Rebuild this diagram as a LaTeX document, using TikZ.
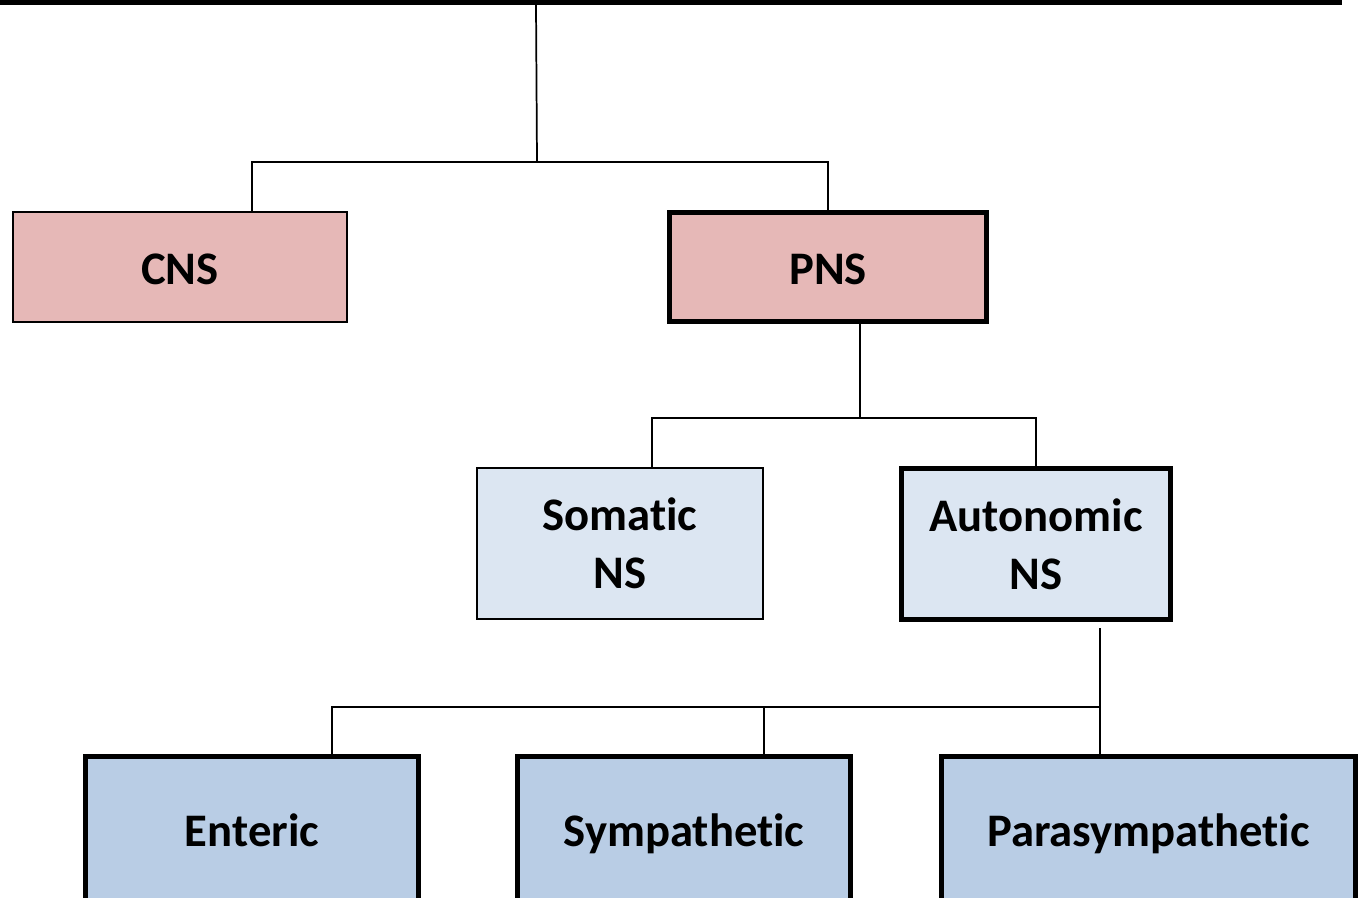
\documentclass[tikz,border=0pt]{standalone}
\usepackage{fontspec}
\setmainfont{Carlito}[Ligatures=NoCommon]
\definecolor{pinkfill}{HTML}{E6B8B7}
\definecolor{palefill}{HTML}{DCE6F2}
\definecolor{bluefill}{HTML}{B9CDE5}
\tikzset{
    box/.style={rectangle, draw=black, line width=1.5pt, inner sep=0pt, align=center,
        font=\bfseries\fontsize{35}{43.5}\selectfont},
    thickbox/.style={box, line width=4pt},
    oneline/.style={text height=27pt, text depth=0pt},
    link/.style={line width=1.3pt}
}

\begin{document}
\begin{tikzpicture}[x=0.75pt,y=-0.75pt]
    \useasboundingbox (0,0) rectangle (1364,898);

    % top bar
    \coordinate (barL) at (0,2.5);
    \coordinate (barR) at (1342,2.5);
    \draw[line width=4.5pt] (barL) -- (barR);

    % CNS and PNS
    \node[box, oneline, fill=pinkfill, minimum width=250.5pt, minimum height=82.5pt] (cns) at (180,267) {CNS};
    \node[thickbox, oneline, fill=pinkfill, minimum width=237.75pt, minimum height=81.75pt] (pns) at (828,267) {PNS};

    % Somatic and Autonomic
    \node[box, fill=palefill, minimum width=214.5pt, minimum height=113.25pt] (somatic) at (620,543.5) {Somatic\\NS};
    \node[thickbox, fill=palefill, minimum width=201.75pt, minimum height=113.25pt] (auto) at (1036,544) {Autonomic\\NS};

    % Enteric, Sympathetic, Parasympathetic
    \node[thickbox, oneline, fill=bluefill, minimum width=249.75pt, minimum height=108pt] (enteric) at (252,828.5) {Enteric};
    \node[thickbox, oneline, fill=bluefill, minimum width=249.75pt, minimum height=108pt] (symp) at (684,828.5) {Sympathetic};
    \node[thickbox, oneline, fill=bluefill, minimum width=310.5pt, minimum height=108pt] (para) at (1148.5,828.5) {Parasympathetic};

    % links from the bar
    \coordinate (barT) at (536,5);
    \coordinate (hubA) at (537,162);
    \coordinate (cnsup) at (252,162);
    \draw[link] (barT) -- (hubA);
    \draw[link] (cns.north -| cnsup) -- (cnsup) -| (pns.north);

    % links from PNS
    \coordinate (hubB) at (860,418);
    \coordinate (somup) at (652,418);
    \draw[link] (pns.south -| hubB) -- (hubB);
    \draw[link] (somatic.north -| somup) -- (somup) -| (auto.north);

    % links from Autonomic NS
    \coordinate (autodown) at (1100,628);
    \coordinate (hubC) at (1100,707);
    \coordinate (entup) at (332,707);
    \coordinate (symup) at (764,707);
    \draw[link] (autodown) -- (para.north -| autodown);
    \draw[link] (enteric.north -| entup) -- (entup) -- (hubC);
    \draw[link] (symp.north -| symup) -- (symup);
\end{tikzpicture}
\end{document}
